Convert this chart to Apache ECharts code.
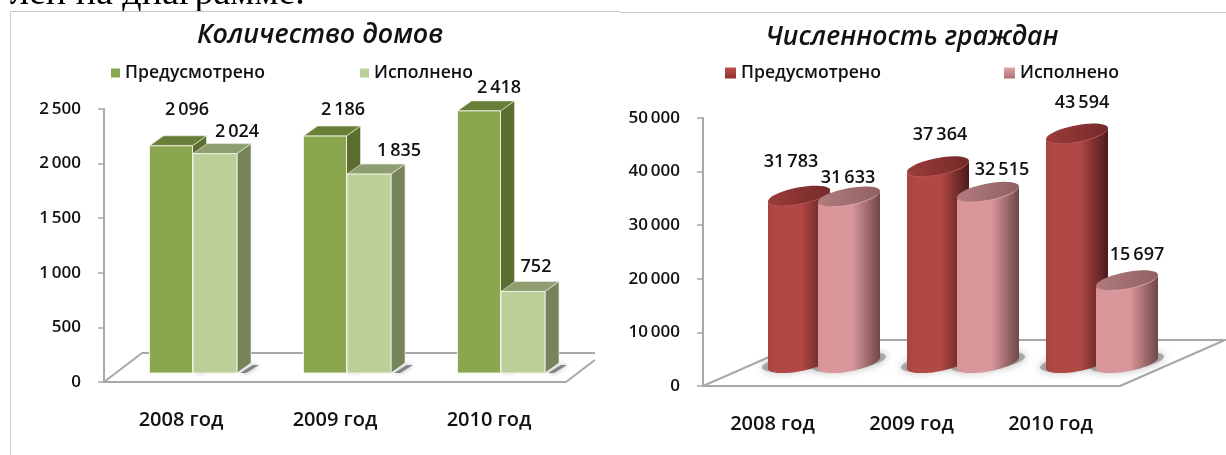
<!DOCTYPE html>
<html>
<head>
<meta charset="utf-8">
<title>Диаграммы</title>
<style>
  html, body { margin: 0; padding: 0; background: #fff; }
  #chart { width: 1226px; height: 455px; }
</style>
<script src="https://cdn.jsdelivr.net/npm/echarts@6/dist/echarts.min.js"></script>
</head>
<body>
<div id="chart"></div>
<script>
var categories = ["2008 год", "2009 год", "2010 год"];
var seriesNames = ["Предусмотрено", "Исполнено"];

// левая диаграмма
var housesTitle = "Количество домов";
var housesPlanned = [2096, 2186, 2418];
var housesDone = [2024, 1835, 752];

// правая диаграмма
var citizensTitle = "Численность граждан";
var citizensPlanned = [31783, 37364, 43594];
var citizensDone = [31633, 32515, 15697];

// сдвиг подписей относительно верха столбика
var housesPlannedShift = [[16, -36], [18, -26], [20, -23]];
var housesDoneShift = [[22, -22], [30, -23], [13, -25]];
var citizensPlannedShift = [[-8, -34], [2, -32], [5, -31]];
var citizensDoneShift = [[-1, -19], [14, -22], [10, -26]];

var FONT = '"Open Sans", "Noto Sans", sans-serif';
var LABEL_FONT = "600 18px " + FONT;
var LineGrad = echarts.graphic.LinearGradient;

function fmt(v) {
  return String(v).replace(/\B(?=(\d{3})+$)/g, "\u2009");
}

function toPairs(arr) {
  return arr.map(function (v, i) { return [i, v]; });
}

function label(x, y, value) {
  return {
    type: "text",
    z2: 5,
    style: {
      text: fmt(value), x: x, y: y, fill: "#111", font: LABEL_FONT,
      align: "center", verticalAlign: "middle"
    }
  };
}

// столбик-параллелепипед
function boxItem(left, width, c, shifts) {
  return function (params, api) {
    var p = api.coord([api.value(0), api.value(1)]);
    var base = api.coord([api.value(0), 0])[1];
    var l = p[0] + left, r = l + width, t = p[1];
    var dx = 14, dy = 10;
    var s = shifts[params.dataIndex];
    return {
      type: "group",
      children: [
        {
          type: "polygon", z2: 0,
          shape: { points: [[r + 3, base], [r + dx + 2, base - dy + 2], [r + dx + 8, base - dy + 2], [r + 9, base]] },
          style: { fill: "rgba(100,100,100,0.75)", shadowBlur: 5, shadowColor: "rgba(100,100,100,0.8)" }
        },
        {
          type: "polygon", z2: c.z,
          shape: { points: [[r, t], [r + dx, t - dy], [r + dx, base - dy], [r, base]] },
          style: { fill: c.side, stroke: "#eef2e4", lineWidth: 0.6 }
        },
        {
          type: "polygon", z2: c.z,
          shape: { points: [[l, t], [l + dx, t - dy], [r + dx, t - dy], [r, t]] },
          style: { fill: c.top, stroke: "#eef2e4", lineWidth: 0.6 }
        },
        {
          type: "rect", z2: c.z + 0.5,
          shape: { x: l, y: t, width: width, height: base - t },
          style: { fill: c.front, stroke: "#eef2e4", lineWidth: 1 }
        },
        label((l + r) / 2 + s[0], t + s[1], api.value(1))
      ]
    };
  };
}

// точки косого эллипса, правый край выше левого
function ellipse(cx, cy, a, b, tilt, from, to) {
  var pts = [];
  for (var i = 0; i <= 48; i++) {
    var t = from + (to - from) * i / 48;
    pts.push([cx + a * Math.cos(t), cy - tilt * Math.cos(t) + b * Math.sin(t)]);
  }
  return pts;
}

// столбик-цилиндр
function cylinderItem(center, c, shifts) {
  return function (params, api) {
    var p = api.coord([api.value(0), api.value(1)]);
    var base = api.coord([api.value(0), 0])[1];
    var cx = p[0] + center, t = p[1];
    var a = 31, b = 8.5, tilt = 5.5;
    var s = shifts[params.dataIndex];
    var bottom = ellipse(cx, base, a, b, tilt, 0, Math.PI);
    var body = [[cx + a, t - tilt]].concat(bottom).concat([[cx - a, t + tilt]])
      .concat(ellipse(cx, t, a, b, tilt, Math.PI, 0));
    return {
      type: "group",
      children: [
        {
          type: "polygon", z2: 0,
          shape: { points: ellipse(cx, base - 1, a + 6, b, tilt, 0, Math.PI * 2) },
          style: { fill: "rgba(110,110,110,0.5)", shadowBlur: 9, shadowColor: "rgba(80,80,80,0.8)" }
        },
        {
          type: "polygon", z2: c.z,
          shape: { points: body },
          style: {
            fill: new LineGrad(0, 0, 1, 0, [
              { offset: 0, color: c.edge }, { offset: 0.12, color: c.body },
              { offset: 0.55, color: c.body }, { offset: 1, color: c.dark }
            ])
          }
        },
        {
          type: "polygon", z2: c.z + 0.5,
          shape: { points: ellipse(cx, t, a, b, tilt, 0, Math.PI * 2) },
          style: {
            fill: new LineGrad(0, 0, 1, 0, [
              { offset: 0, color: c.capLeft }, { offset: 1, color: c.capRight }
            ])
          }
        },
        {
          type: "polyline", z2: c.z + 0.6,
          shape: { points: ellipse(cx, t, a, b, tilt, 0.5, 2.9) },
          style: { stroke: c.rim, lineWidth: 1, fill: null }
        },
        label(cx + s[0], t + s[1], api.value(1))
      ]
    };
  };
}

// пол и задняя линия объёмной диаграммы
function floorItem(depthX, depthY, endDrop, backExtra) {
  return function (params) {
    var g = params.coordSys;
    var x0 = g.x, x1 = g.x + g.width, y0 = g.y + g.height;
    var line = { stroke: "#a8a8a8", lineWidth: 2 };
    return {
      type: "group",
      children: [
        { type: "polyline", shape: { points: [[x0, y0], [x0 + depthX, y0 - depthY]] }, style: line },
        { type: "polyline", shape: { points: [[x0 + depthX, y0 - depthY], [x1 + backExtra, y0 - depthY]] }, style: line },
        { type: "polyline", shape: { points: [[x1, y0], [x1 + depthX * endDrop, y0 - depthY * endDrop]] }, style: line }
      ]
    };
  };
}

var greenDark = { front: "#8aa64f", side: "#5b6d2f", top: "#697f39", z: 1 };
var greenLight = { front: "#bbd098", side: "#76835b", top: "#8f9e70", z: 2 };
var redDark = { edge: "#a94341", body: "#b04845", dark: "#4c1a19", capLeft: "#9c3c3a", capRight: "#742a29", rim: "#b04c4a", z: 1 };
var redLight = { edge: "#d99497", body: "#da979b", dark: "#6f4647", capLeft: "#b27b7e", capRight: "#8f6062", rim: "#dc9ea1", z: 2 };

function visibleAxes(grid, max, step) {
  return {
    x: {
      type: "category", gridIndex: grid, data: categories,
      axisTick: { show: false },
      axisLine: { lineStyle: { color: "#a8a8a8", width: 2 } },
      axisLabel: { color: "#111", fontSize: 20, fontWeight: 600, fontFamily: FONT, margin: 28 }
    },
    y: {
      type: "value", gridIndex: grid, min: 0, max: max, interval: step,
      splitLine: { show: false },
      axisTick: { show: true, length: 6, lineStyle: { color: "#a8a8a8", width: 1.5 } },
      axisLine: { show: true, lineStyle: { color: "#a8a8a8", width: 2 } },
      axisLabel: { color: "#111", fontSize: 17, fontWeight: 600, fontFamily: FONT, margin: 23, padding: [12, 0, 0, 0], formatter: fmt }
    }
  };
}

function hiddenAxes(grid, max) {
  return {
    x: { type: "category", gridIndex: grid, data: categories, show: false },
    y: { type: "value", gridIndex: grid, min: 0, max: max, show: false, splitLine: { show: false } }
  };
}

function custom(name, grid, data, renderItem, z) {
  return {
    type: "custom", name: name, xAxisIndex: grid, yAxisIndex: grid,
    data: data, renderItem: renderItem, encode: { x: 0, y: 1 }, z: z, silent: true, clip: false
  };
}

function legendBlock(left, gap, size, colors) {
  return {
    left: left, top: 59, itemWidth: size, itemHeight: size, itemGap: gap, selectedMode: false,
    textStyle: { color: "#111", fontSize: 17.6, fontWeight: 600, fontFamily: FONT },
    data: seriesNames.map(function (n, i) {
      return { name: n, icon: "rect", itemStyle: { color: colors[i] } };
    })
  };
}

var ax0 = visibleAxes(0, 2500, 500), ax1 = hiddenAxes(1, 2500);
var ax2 = visibleAxes(2, 50000, 10000), ax3 = hiddenAxes(3, 50000);

var chart = echarts.init(document.getElementById("chart"));
chart.setOption({
  backgroundColor: "#fff",
  animation: false,
  title: [
    { text: housesTitle, left: 315, top: 17, textAlign: "center",
      textStyle: { fontSize: 26.8, fontStyle: "italic", fontWeight: 600, color: "#111", fontFamily: FONT } },
    { text: citizensTitle, left: 907, top: 19, textAlign: "center",
      textStyle: { fontSize: 26.5, fontStyle: "italic", fontWeight: 600, color: "#111", fontFamily: FONT } }
  ],
  legend: [
    legendBlock(106, 95, 9, ["#8aa64f", "#bbd098"]),
    legendBlock(720, 123, 11, [
      new LineGrad(0, 0, 0, 1, [{ offset: 0, color: "#c0504d" }, { offset: 1, color: "#8c3330" }]),
      new LineGrad(0, 0, 0, 1, [{ offset: 0, color: "#dfa5a8" }, { offset: 1, color: "#b06f72" }])
    ])
  ],
  grid: [
    { left: 104, width: 462, top: 109, height: 273 },
    { left: 116, width: 462, top: 102, height: 271 },
    { left: 703, width: 417, top: 118, height: 268 },
    { left: 754.5, width: 417, top: 100, height: 263 }
  ],
  xAxis: [ax0.x, ax1.x, ax2.x, ax3.x],
  yAxis: [ax0.y, ax1.y, ax2.y, ax3.y],
  series: [
    custom("", 0, [[0, 0]], floorItem(38, 29, 0.76, 29), 1),
    custom(seriesNames[0], 1, toPairs(housesPlanned), boxItem(-43.5, 43, greenDark, housesPlannedShift), 3),
    custom(seriesNames[1], 1, toPairs(housesDone), boxItem(0, 44, greenLight, housesDoneShift), 3),
    custom("", 2, [[0, 0]], floorItem(105, 46, 1, 106), 1),
    custom(seriesNames[0], 3, toPairs(citizensPlanned), cylinderItem(-25, redDark, citizensPlannedShift), 3),
    custom(seriesNames[1], 3, toPairs(citizensDone), cylinderItem(25, redLight, citizensDoneShift), 3)
  ],
  graphic: [
    { type: "text", left: 10, top: -25, style: { text: "лей на диаграмме.", fill: "#000", font: '38px "Liberation Serif", serif' } },
    { type: "line", shape: { x1: 10, y1: 11.5, x2: 620, y2: 11.5 }, style: { stroke: "#c8c8c8", lineWidth: 1 } },
    { type: "line", shape: { x1: 620, y1: 12.5, x2: 1226, y2: 12.5 }, style: { stroke: "#c8c8c8", lineWidth: 1 } },
    { type: "line", shape: { x1: 10.5, y1: 11, x2: 10.5, y2: 455 }, style: { stroke: "#d0d0d0", lineWidth: 1 } }
  ]
});
</script>
</body>
</html>
